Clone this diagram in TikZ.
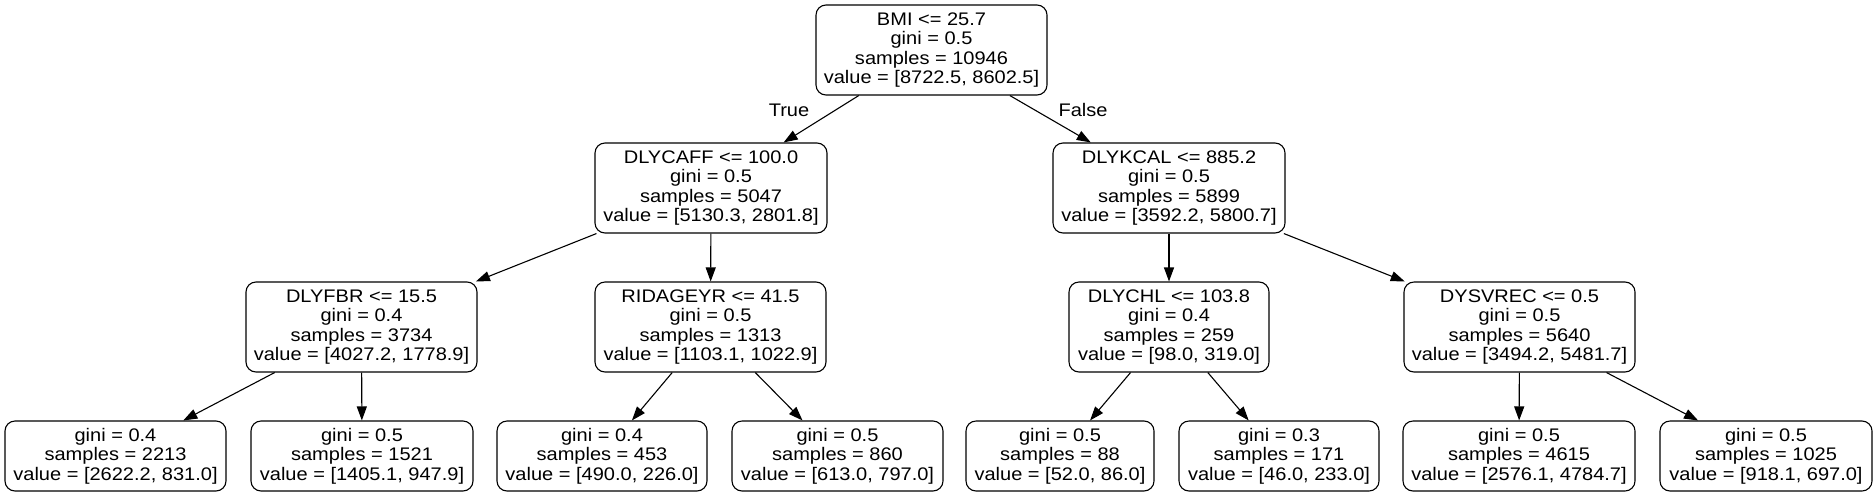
\documentclass[tikz,border=0pt]{standalone}
\usepackage{fontspec}
\setmainfont{Liberation Sans}[FakeStretch=1.1]
\usetikzlibrary{arrows.meta}
\begin{document}
\begin{tikzpicture}[x=1pt,y=-1pt,
  txt/.style={font=\fontsize{18.2}{19.5}\selectfont},
  tn/.style={txt, draw=black, line width=1.1pt, rounded corners=10pt, align=center, inner sep=0pt, minimum height=90pt},
  lf/.style={tn, minimum height=70pt},
  ed/.style={line width=1.1pt, -{Triangle[length=14pt,width=10pt]}}]
\useasboundingbox (0,0) rectangle (1876,496);
% level 0
\node[tn, minimum width=231pt] (root) at (931.5,50) {BMI <= 25.7\\gini = 0.5\\samples = 10946\\value = [8722.5, 8602.5]};
% level 1
\node[tn, minimum width=232pt] (caff) at (711,188) {DLYCAFF <= 100.0\\gini = 0.5\\samples = 5047\\value = [5130.3, 2801.8]};
\node[tn, minimum width=232pt] (kcal) at (1169,188) {DLYKCAL <= 885.2\\gini = 0.5\\samples = 5899\\value = [3592.2, 5800.7]};
% level 2
\node[tn, minimum width=231pt] (fbr) at (361.5,327) {DLYFBR <= 15.5\\gini = 0.4\\samples = 3734\\value = [4027.2, 1778.9]};
\node[tn, minimum width=231pt] (age) at (710.5,327) {RIDAGEYR <= 41.5\\gini = 0.5\\samples = 1313\\value = [1103.1, 1022.9]};
\node[tn, minimum width=200pt] (chl) at (1169,327) {DLYCHL <= 103.8\\gini = 0.4\\samples = 259\\value = [98.0, 319.0]};
\node[tn, minimum width=231pt] (svr) at (1519.5,327) {DYSVREC <= 0.5\\gini = 0.5\\samples = 5640\\value = [3494.2, 5481.7]};
% leaves
\node[lf, minimum width=221pt] (l1) at (115.5,456) {gini = 0.4\\samples = 2213\\value = [2622.2, 831.0]};
\node[lf, minimum width=222pt] (l2) at (362,456) {gini = 0.5\\samples = 1521\\value = [1405.1, 947.9]};
\node[lf, minimum width=210pt] (l3) at (602,456) {gini = 0.4\\samples = 453\\value = [490.0, 226.0]};
\node[lf, minimum width=211pt] (l4) at (837.5,456) {gini = 0.5\\samples = 860\\value = [613.0, 797.0]};
\node[lf, minimum width=188pt] (l5) at (1060,456) {gini = 0.5\\samples = 88\\value = [52.0, 86.0]};
\node[lf, minimum width=200pt] (l6) at (1279,456) {gini = 0.3\\samples = 171\\value = [46.0, 233.0]};
\node[lf, minimum width=232pt] (l7) at (1519,456) {gini = 0.5\\samples = 4615\\value = [2576.1, 4784.7]};
\node[lf, minimum width=212pt] (l8) at (1766,456) {gini = 0.5\\samples = 1025\\value = [918.1, 697.0]};
% edges
\draw[ed] (root) -- (caff);
\draw[ed] (root) -- (kcal);
\draw[ed] (caff) -- (fbr);
\draw[ed] (caff) -- (age);
\draw[ed] (kcal) -- (chl);
\draw[ed] (kcal) -- (svr);
\draw[ed] (fbr) -- (l1);
\draw[ed] (fbr) -- (l2);
\draw[ed] (age) -- (l3);
\draw[ed] (age) -- (l4);
\draw[ed] (chl) -- (l5);
\draw[ed] (chl) -- (l6);
\draw[ed] (svr) -- (l7);
\draw[ed] (svr) -- (l8);
% edge labels
\node[txt] (ltrue) at (789,110) {True};
\node[txt] (lfalse) at (1083,110) {False};
\end{tikzpicture}
\end{document}
